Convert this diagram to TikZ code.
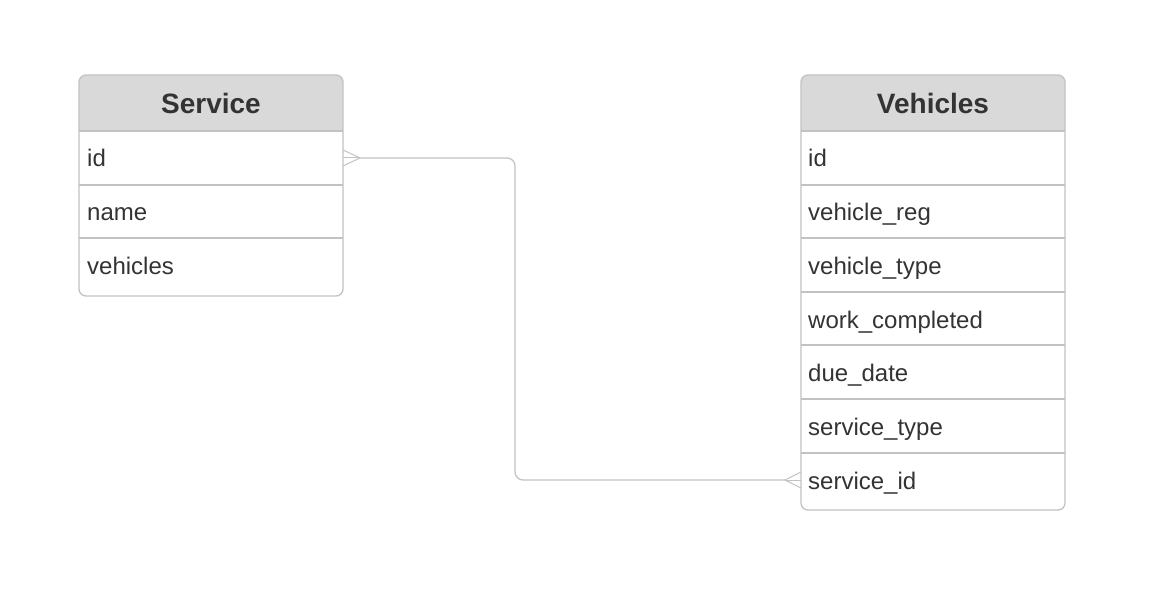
\documentclass[tikz,border=0pt]{standalone}
\usepackage{fontspec}
\setmainfont{Liberation Sans}
\definecolor{frame}{HTML}{C2C2C2}
\definecolor{hdr}{HTML}{D9D9D9}
\definecolor{txt}{HTML}{333333}
\tikzset{
  tbl/.style={draw=frame, line width=1.3pt, rounded corners=7pt},
  sep/.style={draw=frame, line width=1.3pt},
  hdrtext/.style={anchor=base, text=txt, font=\fontsize{28}{32}\selectfont\bfseries, inner sep=0pt},
  rowtext/.style={anchor=base west, text=txt, font=\fontsize{24}{28}\selectfont, inner sep=0pt},
  link/.style={draw=frame, line width=1.3pt, rounded corners=8pt},
  foot/.style={draw=frame, line width=1pt}
}
\begin{document}
\begin{tikzpicture}[x=1pt,y=-1pt]
\useasboundingbox (0,0) rectangle (1158,604);
% ---------- Service table ----------
\begin{scope}
  \clip[rounded corners=7pt] (79,75) rectangle (343,296);
  \fill[hdr] (79,75) rectangle (343,131);
\end{scope}
\draw[tbl] (79,75) rectangle (343,296);
\foreach \y in {131,185,238} \draw[sep] (79,\y) -- (343,\y);
\node[hdrtext] (shead) at (211,114) {Service};
\node[rowtext] (sid) at (87,166.5) {id};
\node[rowtext] (sname) at (87,220.5) {name};
\node[rowtext] (sveh) at (87,274.5) {vehicles};
\coordinate (sidR) at (343,158);
% ---------- Vehicles table ----------
\begin{scope}
  \clip[rounded corners=7pt] (801,75) rectangle (1065,510);
  \fill[hdr] (801,75) rectangle (1065,131);
\end{scope}
\draw[tbl] (801,75) rectangle (1065,510);
\foreach \y in {131,185,238,292,345,399,453} \draw[sep] (801,\y) -- (1065,\y);
\node[hdrtext] (vhead) at (933,114) {Vehicles};
\node[rowtext] (vid) at (808,166.5) {id};
\node[rowtext] (vreg) at (808,220.5) {vehicle\_reg};
\node[rowtext] (vtype) at (808,274.5) {vehicle\_type};
\node[rowtext] (vwork) at (808,328.5) {work\_completed};
\node[rowtext] (vdue) at (808,381.5) {due\_date};
\node[rowtext] (vstype) at (808,435.5) {service\_type};
\node[rowtext] (vsid) at (808,489.5) {service\_id};
\coordinate (vsidL) at (801,480);
% ---------- connector ----------
\coordinate (sfoot) at (360,158);
\coordinate (vfoot) at (785,480);
\draw[link] (sfoot) -- (515,158) -- (515,480) -- (vfoot);
\draw[foot] (sidR) -- (sfoot);
\draw[foot] ([yshift=-8pt]sidR) -- (sfoot) -- ([yshift=8pt]sidR);
\draw[foot] (vsidL) -- (vfoot);
\draw[foot] ([yshift=-8pt]vsidL) -- (vfoot) -- ([yshift=8pt]vsidL);
\end{tikzpicture}
\end{document}
